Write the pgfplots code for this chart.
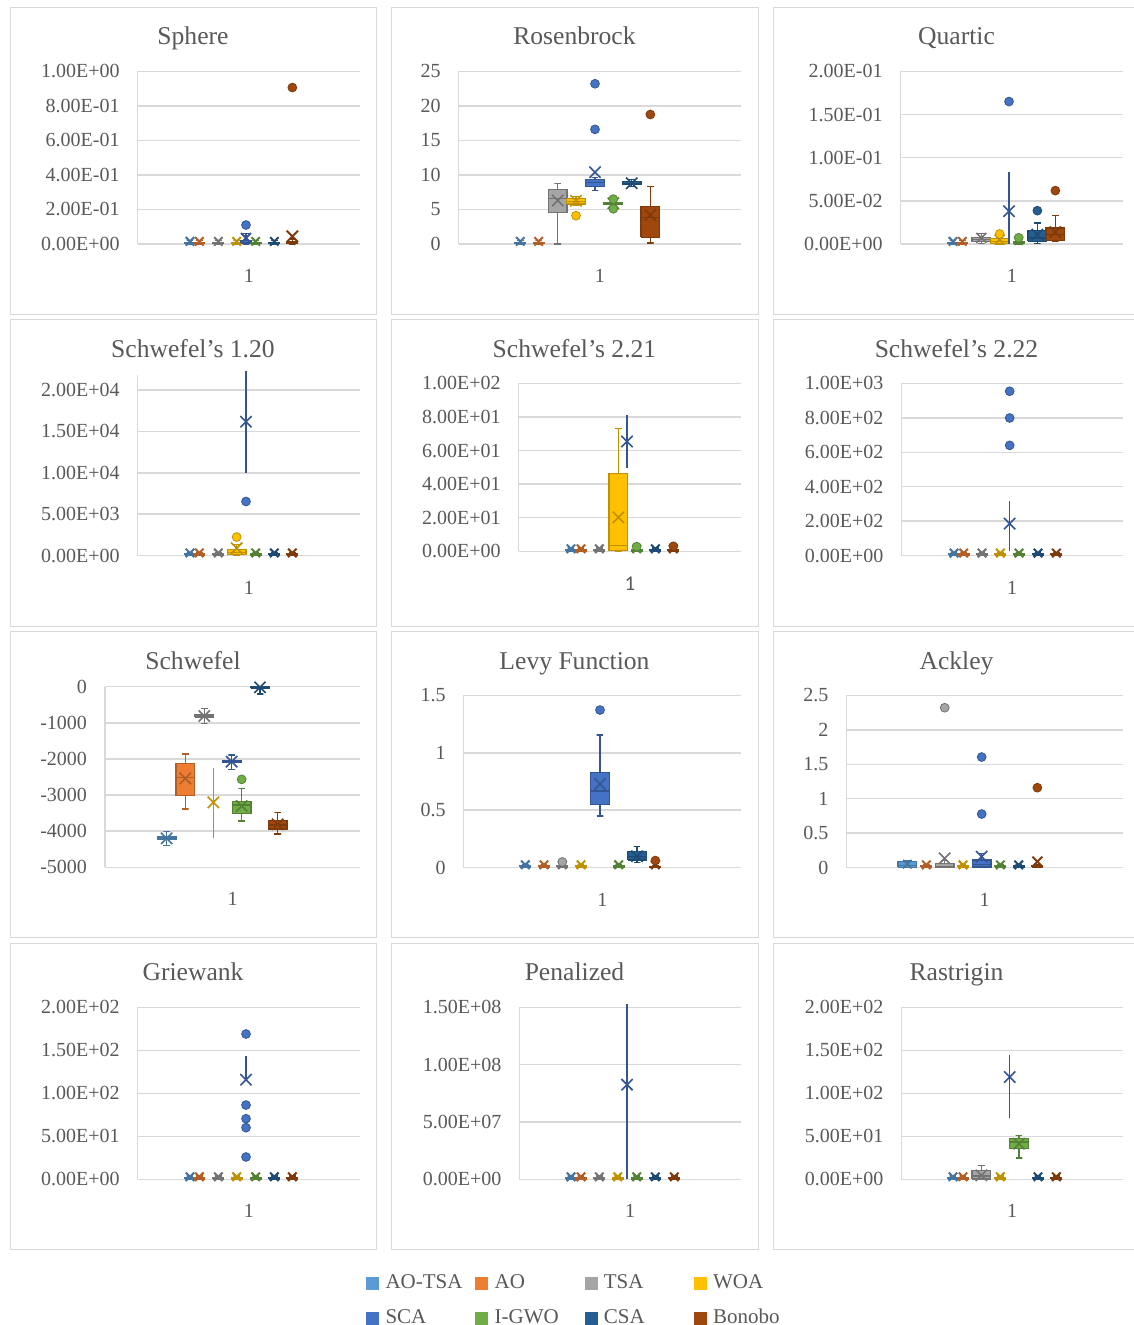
\documentclass[border=0pt]{standalone}
\usepackage{pgfplots}
\pgfplotsset{compat=1.18}
\usepackage{fontspec}
\setmainfont{Liberation Serif}
\newfontfamily\carlito{Carlito}
\definecolor{AOTSA}{HTML}{5B9BD5}
\definecolor{AO}{HTML}{ED7D31}
\definecolor{TSA}{HTML}{A5A5A5}
\definecolor{WOA}{HTML}{FFC000}
\definecolor{SCA}{HTML}{4472C4}
\definecolor{IGWO}{HTML}{70AD47}
\definecolor{CSA}{HTML}{255E91}
\definecolor{BON}{HTML}{9E480E}
\colorlet{AOTSAD}{AOTSA!75!black}
\colorlet{AOD}{AO!75!black}
\colorlet{TSAD}{TSA!70!black}
\colorlet{WOAD}{WOA!75!black}
\colorlet{SCAD}{SCA!75!black}
\colorlet{IGWOD}{IGWO!75!black}
\colorlet{CSAD}{CSA!80!black}
\colorlet{BOND}{BON!80!black}
\definecolor{gridc}{HTML}{D9D9D9}
\definecolor{txt}{HTML}{595959}
\pgfplotsset{
  panel/.style={
    scale only axis, clip=false,
    axis lines*=left,
    axis line style={draw=gridc, line width=0.75pt, -},
    ymajorgrids, major grid style={draw=gridc, line width=0.75pt},
    major tick length=0pt, tick style={draw=none},
    yticklabel style={font=\fontsize{10}{11}\selectfont, text=txt, anchor=east, xshift=-5.5pt},
    xticklabel style={font=\fontsize{10}{11}\selectfont, text=txt, anchor=center, yshift=-16pt},
    xticklabels={1},
    anchor=south west,
  },
}
% box: colour, position, lower whisker, Q1, median, Q3, upper whisker, mean, mark size
\newcommand\BX[9]{%
  \pgfmathsetmacro\bxl{#2-28}\pgfmathsetmacro\bxr{#2+28}%
  \pgfmathsetmacro\wxl{#2-10}\pgfmathsetmacro\wxr{#2+10}%
  \addplot[draw=#1D, line width=0.6pt] coordinates {(\wxl,#3) (\wxr,#3) (#2,#3) (#2,#7) (\wxl,#7) (\wxr,#7)};
  \addplot[draw=#1D, fill=#1, line width=0.6pt] coordinates {(\bxl,#4) (\bxr,#4) (\bxr,#6) (\bxl,#6) (\bxl,#4)};
  \addplot[draw=#1D, line width=0.6pt] coordinates {(\bxl,#5) (\bxr,#5)};
  \addplot[only marks, mark=x, mark size=#9, mark options={draw=#1D, line width=0.8pt}] coordinates {(#2,#8)};
}
% near-zero box (narrow, bolder mean mark)
\newcommand\BZ[9]{%
  \pgfmathsetmacro\bxl{#2-16}\pgfmathsetmacro\bxr{#2+16}%
  \pgfmathsetmacro\wxl{#2-10}\pgfmathsetmacro\wxr{#2+10}%
  \addplot[draw=#1D, line width=0.7pt] coordinates {(\wxl,#3) (\wxr,#3) (#2,#3) (#2,#7) (\wxl,#7) (\wxr,#7)};
  \addplot[draw=#1D, fill=#1, line width=0.7pt] coordinates {(\bxl,#4) (\bxr,#4) (\bxr,#6) (\bxl,#6) (\bxl,#4)};
  \addplot[draw=#1D, line width=0.7pt] coordinates {(\bxl,#5) (\bxr,#5)};
  \addplot[only marks, mark=x, mark size=#9, mark options={draw=#1D, line width=1pt}] coordinates {(#2,#8)};
}
% whisker line only: colour, position, lower whisker, upper whisker, mean
\newcommand\BL[5]{%
  \addplot[draw=#1D, line width=0.75pt] coordinates {(#2,#3) (#2,#4)};
  \addplot[only marks, mark=x, mark size=4pt, mark options={draw=#1D, line width=0.8pt}] coordinates {(#2,#5)};
}
\newcommand\OU[2]{%
  \addplot[only marks, mark=*, mark size=2.2pt, mark options={fill=#1, draw=#1D, line width=0.4pt}] coordinates {#2};
}
\begin{document}
\begin{tikzpicture}
\useasboundingbox (0,0) rectangle (566.5pt,-662.5pt);
\fill[white] (0,0) rectangle (566.5pt,-662.5pt);
% frames
\begin{scope}[draw=gridc, line width=0.5pt]
\foreach \xa/\xb in {5.25/188.25, 195.75/379, 386.75/572.5}{
  \foreach \ya/\yb in {-4/-157.25, -159.75/-313, -315.75/-468.75, -471.5/-624.75}{
    \draw (\xa pt,\ya pt) rectangle (\xb pt,\yb pt);
  }
}
\end{scope}
% titles
\begin{scope}[every node/.style={anchor=base, font=\fontsize{12.8}{15}\selectfont, text=txt}]
\node at (96.5pt,-22.35pt) {Sphere};
\node at (287.25pt,-22.35pt) {Rosenbrock};
\node at (478.25pt,-22.35pt) {Quartic};
\node at (96.5pt,-178.65pt) {Schwefel’s 1.20};
\node at (287.25pt,-178.65pt) {Schwefel’s 2.21};
\node at (478.25pt,-178.65pt) {Schwefel’s 2.22};
\node at (96.5pt,-334.5pt) {Schwefel};
\node at (287.25pt,-334.5pt) {Levy Function};
\node at (478.25pt,-334.5pt) {Ackley};
\node at (96.5pt,-490.15pt) {Griewank};
\node at (287.25pt,-490.15pt) {Penalized};
\node at (478.25pt,-490.15pt) {Rastrigin};
\end{scope}

% ---------- Sphere
\begin{axis}[panel, at={(68.83pt,-122pt)}, width=111.17pt, height=86.33pt,
  xmin=383, xmax=1050, ymin=0, ymax=1, xtick={716.5},
  ytick={0,0.2,0.4,0.6,0.8,1},
  yticklabels={0.00E+00,2.00E-01,4.00E-01,6.00E-01,8.00E-01,1.00E+00}]
\BZ{AOTSA}{540}{0}{0.002}{0.005}{0.01}{0.02}{0.015}{3pt}
\BZ{AO}{568}{0}{0.002}{0.005}{0.01}{0.02}{0.015}{3pt}
\BZ{TSA}{625}{0}{0.002}{0.005}{0.01}{0.02}{0.015}{3pt}
\BZ{WOA}{680}{0}{0.002}{0.005}{0.01}{0.02}{0.015}{3pt}
\BZ{SCA}{708}{0}{0.003}{0.01}{0.02}{0.06}{0.035}{3.5pt}
\OU{SCA}{(708,0.11)}
\BZ{IGWO}{737}{0}{0.002}{0.005}{0.01}{0.02}{0.015}{3pt}
\BZ{CSA}{793}{0}{0.002}{0.005}{0.01}{0.02}{0.015}{3pt}
\BZ{BON}{847}{0}{0.002}{0.005}{0.012}{0.03}{0.044}{4pt}
\OU{BON}{(847,0.906)}
\end{axis}

% ---------- Rosenbrock
\begin{axis}[panel, at={(229.33pt,-122pt)}, width=141.17pt, height=86.33pt,
  xmin=203, xmax=1050, ymin=0, ymax=25, xtick={626.5},
  ytick={0,5,10,15,20,25}, yticklabels={0,5,10,15,20,25}]
\BZ{AOTSA}{388}{0}{0.05}{0.12}{0.25}{0.5}{0.38}{3pt}
\BZ{AO}{443}{0}{0.05}{0.12}{0.25}{0.5}{0.38}{3pt}
\BX{TSA}{500}{0}{4.6}{6.6}{7.9}{8.8}{6.3}{4pt}
\BX{WOA}{555}{5.6}{5.8}{6.2}{6.6}{6.9}{6.25}{4pt}
\OU{WOA}{(555,4.1)}
\BX{SCA}{612}{7.8}{8.3}{8.9}{9.3}{9.6}{10.4}{4pt}
\OU{SCA}{(612,23.2) (612,16.6)}
\BX{IGWO}{667}{5.5}{5.7}{5.85}{6.0}{6.2}{5.9}{4pt}
\OU{IGWO}{(667,6.5) (667,5.1)}
\BX{CSA}{722}{8.3}{8.6}{8.8}{9.0}{9.3}{8.8}{4pt}
\BX{BON}{778}{0.15}{0.96}{3.8}{5.45}{8.3}{4.2}{4pt}
\OU{BON}{(778,18.75)}
\end{axis}

% ---------- Quartic
\begin{axis}[panel, at={(450.33pt,-122pt)}, width=111.17pt, height=86.33pt,
  xmin=383, xmax=1050, ymin=0, ymax=0.2, xtick={716.5},
  ytick={0,0.05,0.1,0.15,0.2},
  yticklabels={0.00E+00,5.00E-02,1.00E-01,1.50E-01,2.00E-01}]
\BZ{AOTSA}{540}{0}{0.0004}{0.001}{0.002}{0.004}{0.003}{3pt}
\BZ{AO}{568}{0}{0.0004}{0.001}{0.002}{0.004}{0.003}{3pt}
\BX{TSA}{625}{0.001}{0.0025}{0.005}{0.0075}{0.0125}{0.007}{3.5pt}
\BX{WOA}{680}{0}{0.001}{0.003}{0.006}{0.009}{0.005}{3.5pt}
\OU{WOA}{(680,0.0116)}
\BL{SCA}{708}{0}{0.083}{0.038}
\OU{SCA}{(708,0.165)}
\BZ{IGWO}{737}{0}{0.001}{0.002}{0.003}{0.005}{0.004}{3pt}
\OU{IGWO}{(737,0.0072)}
\BX{CSA}{793}{0.001}{0.0031}{0.0069}{0.0154}{0.0243}{0.0108}{4pt}
\OU{CSA}{(793,0.0386)}
\BX{BON}{847}{0.003}{0.0042}{0.0108}{0.0185}{0.0332}{0.0139}{4pt}
\OU{BON}{(847,0.0618)}
\end{axis}

% ---------- Schwefel's 1.20 (values in thousands)
\begin{axis}[panel, at={(68.83pt,-277.83pt)}, width=111.17pt, height=90.28pt,
  xmin=383, xmax=1050, ymin=0, ymax=21.8, xtick={716.5},
  ytick={0,5,10,15,20},
  yticklabels={0.00E+00,5.00E+03,1.00E+04,1.50E+04,2.00E+04}]
\BZ{AOTSA}{540}{0}{0.04}{0.1}{0.2}{0.4}{0.33}{3pt}
\BZ{AO}{568}{0}{0.04}{0.1}{0.2}{0.4}{0.33}{3pt}
\BZ{TSA}{625}{0}{0.04}{0.1}{0.2}{0.4}{0.33}{3pt}
\BX{WOA}{680}{0}{0.1}{0.4}{0.7}{1.3}{0.9}{4pt}
\OU{WOA}{(680,2.25)}
\BL{SCA}{708}{10}{22.29}{16.18}
\OU{SCA}{(708,6.54)}
\BZ{IGWO}{737}{0}{0.04}{0.1}{0.2}{0.4}{0.33}{3pt}
\BZ{CSA}{793}{0}{0.04}{0.1}{0.2}{0.4}{0.33}{3pt}
\BZ{BON}{847}{0}{0.04}{0.1}{0.2}{0.4}{0.33}{3pt}
\end{axis}

% ---------- Schwefel's 2.21
\begin{axis}[panel, at={(259.33pt,-275.67pt)}, width=111.17pt, height=84pt,
  xmin=383, xmax=1050, ymin=0, ymax=100, xtick={716.5},
  xticklabel style={font=\carlito\fontsize{10.5}{12}\selectfont},
  ytick={0,20,40,60,80,100},
  yticklabels={0.00E+00,2.00E+01,4.00E+01,6.00E+01,8.00E+01,1.00E+02}]
\BZ{AOTSA}{540}{0}{0.2}{0.5}{1}{2}{1.5}{3pt}
\BZ{AO}{570}{0}{0.2}{0.5}{1}{2}{1.5}{3pt}
\BZ{TSA}{625}{0}{0.2}{0.5}{1}{2}{1.5}{3pt}
\BX{WOA}{682}{0}{0.5}{3.4}{46.5}{73.3}{20.2}{4pt}
\BL{SCA}{708}{49.6}{80.9}{65.4}
\BZ{IGWO}{737}{0}{0.2}{0.5}{1}{2}{1.5}{3pt}
\OU{IGWO}{(737,2.8)}
\BZ{CSA}{793}{0}{0.2}{0.5}{1}{2}{1.5}{3pt}
\BZ{BON}{847}{0}{0.2}{0.5}{1}{2}{1.5}{3pt}
\OU{BON}{(847,3.0)}
\end{axis}

% ---------- Schwefel's 2.22
\begin{axis}[panel, at={(450.67pt,-277.83pt)}, width=110.83pt, height=86.17pt,
  xmin=385, xmax=1050, ymin=0, ymax=1000, xtick={717.5},
  ytick={0,200,400,600,800,1000},
  yticklabels={0.00E+00,2.00E+02,4.00E+02,6.00E+02,8.00E+02,1.00E+03}]
\BZ{AOTSA}{543}{0}{2}{5}{10}{20}{15}{3pt}
\BZ{AO}{572}{0}{2}{5}{10}{20}{15}{3pt}
\BZ{TSA}{627}{0}{2}{5}{10}{20}{15}{3pt}
\BZ{WOA}{682}{0}{2}{5}{10}{20}{15}{3pt}
\BL{SCA}{710}{25}{315}{186}
\OU{SCA}{(710,954) (710,799) (710,640)}
\BZ{IGWO}{738}{0}{2}{5}{10}{20}{15}{3pt}
\BZ{CSA}{795}{0}{2}{5}{10}{20}{15}{3pt}
\BZ{BON}{850}{0}{2}{5}{10}{20}{15}{3pt}
\end{axis}

% ---------- Schwefel
\begin{axis}[panel, at={(52.5pt,-433.67pt)}, width=127.5pt, height=90.33pt,
  xmin=285, xmax=1050, ymin=-5000, ymax=0, xtick={667.5},
  ytick={-5000,-4000,-3000,-2000,-1000,0},
  yticklabels={-5000,-4000,-3000,-2000,-1000,0}]
\BX{AOTSA}{470}{-4400}{-4240}{-4200}{-4160}{-4000}{-4197}{4pt}
\BX{AO}{526}{-3386}{-3017}{-2520}{-2122}{-1863}{-2540}{4pt}
\BX{TSA}{583}{-1020}{-850}{-812}{-780}{-610}{-812}{4pt}
\BL{WOA}{610}{-4197}{-2242}{-3201}
\BX{SCA}{665}{-2290}{-2100}{-2075}{-2050}{-1890}{-2075}{4pt}
\BX{IGWO}{695}{-3718}{-3506}{-3275}{-3183}{-2814}{-3303}{4pt}
\OU{IGWO}{(695,-2565)}
\BX{CSA}{750}{-200}{-50}{-20}{-5}{0}{-18}{4pt}
\BX{BON}{803}{-4077}{-3939}{-3828}{-3708}{-3478}{-3810}{4pt}
\end{axis}

% ---------- Levy
\begin{axis}[panel, at={(231.83pt,-433.83pt)}, width=138.67pt, height=86.17pt,
  xmin=218, xmax=1050, ymin=0, ymax=1.5, xtick={634},
  ytick={0,0.5,1,1.5}, yticklabels={0,0.5,1,1.5}]
\BZ{AOTSA}{403}{0}{0.003}{0.008}{0.015}{0.03}{0.025}{3pt}
\BZ{AO}{459}{0}{0.003}{0.008}{0.015}{0.03}{0.025}{3pt}
\BZ{TSA}{514}{0}{0.003}{0.008}{0.015}{0.03}{0.025}{3pt}
\OU{TSA}{(514,0.05)}
\BZ{WOA}{570}{0}{0.003}{0.008}{0.015}{0.03}{0.025}{3pt}
\BX{SCA}{627}{0.45}{0.548}{0.667}{0.83}{1.155}{0.728}{4pt}
\OU{SCA}{(627,1.372)}
\BZ{IGWO}{683}{0}{0.003}{0.008}{0.015}{0.03}{0.025}{3pt}
\BX{CSA}{738}{0.044}{0.067}{0.10}{0.139}{0.183}{0.10}{4pt}
\BZ{BON}{793}{0}{0.002}{0.005}{0.01}{0.02}{0.025}{3pt}
\OU{BON}{(793,0.062)}
\end{axis}

% ---------- Ackley
\begin{axis}[panel, at={(423.17pt,-433.83pt)}, width=138.33pt, height=86.17pt,
  xmin=220, xmax=1050, ymin=0, ymax=2.5, xtick={635},
  ytick={0,0.5,1,1.5,2,2.5}, yticklabels={0,0.5,1,1.5,2,2.5}]
\BX{AOTSA}{403}{0}{0.005}{0.03}{0.095}{0.1}{0.05}{3pt}
\BZ{AO}{460}{0}{0.005}{0.012}{0.025}{0.05}{0.04}{3pt}
\BX{TSA}{515}{0}{0.005}{0.02}{0.06}{0.1}{0.135}{4pt}
\OU{TSA}{(515,2.32)}
\BZ{WOA}{570}{0}{0.005}{0.012}{0.025}{0.05}{0.04}{3pt}
\BX{SCA}{626}{0}{0.01}{0.05}{0.11}{0.2}{0.16}{4pt}
\OU{SCA}{(626,1.605) (626,0.778)}
\BZ{IGWO}{682}{0}{0.005}{0.012}{0.025}{0.05}{0.04}{3pt}
\BZ{CSA}{737}{0}{0.005}{0.012}{0.025}{0.05}{0.04}{3pt}
\BZ{BON}{793}{0}{0.005}{0.012}{0.025}{0.05}{0.087}{3.5pt}
\OU{BON}{(793,1.16)}
\end{axis}

% ---------- Griewank
\begin{axis}[panel, at={(68.83pt,-589.67pt)}, width=111.17pt, height=86pt,
  xmin=383, xmax=1050, ymin=0, ymax=200, xtick={716.5},
  ytick={0,50,100,150,200},
  yticklabels={0.00E+00,5.00E+01,1.00E+02,1.50E+02,2.00E+02}]
\BZ{AOTSA}{540}{0}{0.4}{1}{2}{4}{3}{3pt}
\BZ{AO}{568}{0}{0.4}{1}{2}{4}{3}{3pt}
\BZ{TSA}{625}{0}{0.4}{1}{2}{4}{3}{3pt}
\BZ{WOA}{680}{0}{0.4}{1}{2}{4}{3}{3pt}
\BL{SCA}{708}{116}{143.4}{115.9}
\OU{SCA}{(708,169) (708,86.4) (708,70.5) (708,60.1) (708,26)}
\BZ{IGWO}{737}{0}{0.4}{1}{2}{4}{3}{3pt}
\BZ{CSA}{793}{0}{0.4}{1}{2}{4}{3}{3pt}
\BZ{BON}{847}{0}{0.4}{1}{2}{4}{3}{3pt}
\end{axis}

% ---------- Penalized (values in millions)
\begin{axis}[panel, at={(259.67pt,-589.67pt)}, width=110.83pt, height=86pt,
  xmin=385, xmax=1050, ymin=0, ymax=150, xtick={717.5},
  ytick={0,50,100,150},
  yticklabels={0.00E+00,5.00E+07,1.00E+08,1.50E+08},
  legend entries={\makebox[40.5pt][l]{AO-TSA},\makebox[40.5pt][l]{AO},\makebox[40.5pt][l]{TSA},\makebox[40.5pt][l]{WOA},
    \makebox[40.5pt][l]{SCA},\makebox[40.5pt][l]{I-GWO},\makebox[40.5pt][l]{CSA},\makebox[40.5pt][l]{Bonobo}},
  legend cell align=left,
  legend style={at={(-0.7202,-0.498)}, anchor=north west, draw=none, fill=none,
    inner xsep=3pt, inner ysep=2pt,
    font=\color{txt}\fontsize{10.5}{12}\selectfont, legend columns=4,
    nodes={inner sep=2pt, text height=7.5pt, text depth=2.5pt},
    /tikz/every odd column/.append style={column sep=1.3pt},
    /tikz/every even column/.append style={column sep=2.4pt},
    row sep=3.5pt}]
\addlegendimage{legend image code/.code={\fill[AOTSA] (0pt,-3pt) rectangle (6pt,3pt);}}
\addlegendimage{legend image code/.code={\fill[AO] (0pt,-3pt) rectangle (6pt,3pt);}}
\addlegendimage{legend image code/.code={\fill[TSA] (0pt,-3pt) rectangle (6pt,3pt);}}
\addlegendimage{legend image code/.code={\fill[WOA] (0pt,-3pt) rectangle (6pt,3pt);}}
\addlegendimage{legend image code/.code={\fill[SCA] (0pt,-3pt) rectangle (6pt,3pt);}}
\addlegendimage{legend image code/.code={\fill[IGWO] (0pt,-3pt) rectangle (6pt,3pt);}}
\addlegendimage{legend image code/.code={\fill[CSA] (0pt,-3pt) rectangle (6pt,3pt);}}
\addlegendimage{legend image code/.code={\fill[BON] (0pt,-3pt) rectangle (6pt,3pt);}}
\BZ{AOTSA}{540}{0}{0.3}{0.75}{1.5}{3}{2.2}{3pt}
\BZ{AO}{570}{0}{0.3}{0.75}{1.5}{3}{2.2}{3pt}
\BZ{TSA}{625}{0}{0.3}{0.75}{1.5}{3}{2.2}{3pt}
\BZ{WOA}{680}{0}{0.3}{0.75}{1.5}{3}{2.2}{3pt}
\BL{SCA}{708}{0}{153.2}{82.6}
\BZ{IGWO}{737}{0}{0.3}{0.75}{1.5}{3}{2.2}{3pt}
\BZ{CSA}{793}{0}{0.3}{0.75}{1.5}{3}{2.2}{3pt}
\BZ{BON}{850}{0}{0.3}{0.75}{1.5}{3}{2.2}{3pt}
\end{axis}

% ---------- Rastrigin
\begin{axis}[panel, at={(450.67pt,-589.67pt)}, width=110.83pt, height=86pt,
  xmin=385, xmax=1050, ymin=0, ymax=200, xtick={717.5},
  ytick={0,50,100,150,200},
  yticklabels={0.00E+00,5.00E+01,1.00E+02,1.50E+02,2.00E+02}]
\BZ{AOTSA}{540}{0}{0.4}{1}{2}{4}{3}{3pt}
\BZ{AO}{570}{0}{0.4}{1}{2}{4}{3}{3pt}
\BX{TSA}{625}{0}{0.5}{4}{10.5}{16.3}{4.7}{4pt}
\BZ{WOA}{682}{0}{0.4}{1}{2}{4}{3}{3pt}
\BL{SCA}{710}{71.3}{144.2}{119}
\BX{IGWO}{738}{24.8}{35.7}{43.4}{47.3}{51.2}{41.5}{4pt}
\BZ{CSA}{795}{0}{0.4}{1}{2}{4}{3}{3pt}
\BZ{BON}{850}{0}{0.4}{1}{2}{4}{3}{3pt}
\end{axis}
\end{tikzpicture}
\end{document}
